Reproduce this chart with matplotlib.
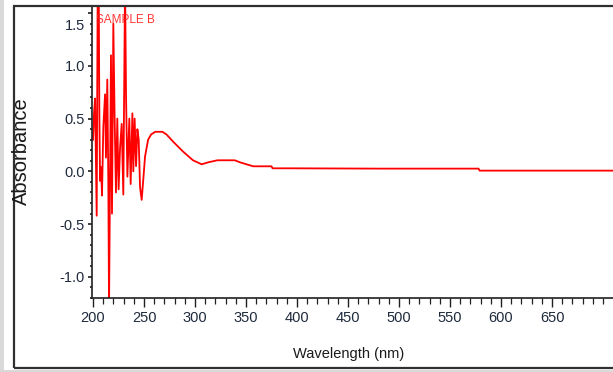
import matplotlib
matplotlib.use("Agg")
import matplotlib.pyplot as plt
from matplotlib.ticker import MultipleLocator, FixedLocator
from matplotlib.patches import Rectangle
import matplotlib.transforms as mtransforms

# ---- data ----
wavelength = [200.0, 201.0, 202.0, 203.6, 204.6, 205.6, 206.2, 206.9, 207.9, 208.8,
              210.1, 211.8, 212.7, 214.0, 215.0, 215.7, 217.6, 218.6, 219.9, 221.2,
              222.5, 223.8, 225.1, 226.5, 228.1, 229.7, 231.4, 232.4, 233.7, 235.6,
              236.9, 238.6, 239.5, 240.8, 242.2, 243.5, 244.8, 246.1, 247.7, 249.5,
              251.0, 254.0, 257.0, 261.0, 268.0, 272.0, 278.7, 288.0, 298.0, 306.5,
              313.0, 322.0, 339.0, 344.0, 357.0, 375.0, 376.0, 393.0, 480.0, 578.0,
              579.0, 650.0, 710.0]
absorbance = [0.30, 0.55, 0.69, -0.42, 1.80, 1.80, 0.55, -0.09, 0.04, -0.23,
              0.42, 0.73, 0.13, 0.87, -0.10, -1.30, 1.10, -0.40, 1.40, 0.50,
              -0.20, 0.50, -0.17, 0.22, 0.45, -0.22, 1.80, 0.70, -0.05, 0.50,
              -0.12, 0.55, 0.00, 0.50, 0.05, 0.40, 0.30, -0.15, -0.27, -0.05,
              0.14, 0.30, 0.35, 0.375, 0.375, 0.35, 0.28, 0.19, 0.105, 0.067,
              0.086, 0.105, 0.105, 0.086, 0.048, 0.048, 0.029, 0.029, 0.026, 0.026,
              0.007, 0.007, 0.007]

x_major = [200, 250, 300, 350, 400, 450, 500, 550, 600, 650]
y_major = [-1.0, -0.5, 0.0, 0.5, 1.0, 1.5]
y_labels = ["-1.0", "-0.5", "0.0", "0.5", "1.0", "1.5"]
sample_label = "SAMPLE B"
xlabel = "Wavelength (nm)"
ylabel = "Absorbance"

W, H = 613, 372
fig = plt.figure(figsize=(W / 100, H / 100), dpi=100)
fig.patch.set_facecolor("white")

narrow = ["Liberation Sans Narrow", "Liberation Sans", "DejaVu Sans"]
tick_color = "#1f2a3c"

# light gray strip on the left and the outer frame
fig.add_artist(Rectangle((0, 0), 4 / W, 1, transform=fig.transFigure,
                         facecolor="#d9d9d9", edgecolor="none"))
fig.add_artist(Rectangle((14 / W, 1 - 368 / H), 1.0, (368 - 6) / H,
                         transform=fig.transFigure, facecolor="none",
                         edgecolor="#303030", linewidth=1.6))
fig.add_artist(Rectangle((0, 0), 1, 1 - 370 / H, transform=fig.transFigure,
                         facecolor="#d9d9d9", edgecolor="none"))

ax = fig.add_axes([92 / W, 1 - 298 / H, 1 - 92 / W, (298 - 6) / H])
ax.set_facecolor("white")
ax.plot(wavelength, absorbance, color="#ff0000", linewidth=1.3)

ax.set_xlim(199.0, 709.8)
ax.set_ylim(-1.2, 1.567)

for s in ["top", "right"]:
    ax.spines[s].set_visible(False)
for s in ["left", "bottom"]:
    ax.spines[s].set_color("#202020")
    ax.spines[s].set_linewidth(1.2)

ax.xaxis.set_major_locator(FixedLocator(x_major))
ax.xaxis.set_minor_locator(MultipleLocator(10))
ax.yaxis.set_major_locator(FixedLocator(y_major))
ax.yaxis.set_minor_locator(MultipleLocator(0.1))
ax.set_yticklabels(y_labels)

ax.tick_params(axis="x", which="major", direction="out", length=6.5, width=1.0,
               color="#202020", pad=3, labelsize=10.5, labelcolor=tick_color)
ax.tick_params(axis="x", which="minor", direction="out", length=4, width=0.9,
               color="#202020")
ax.tick_params(axis="y", which="major", direction="out", length=3, width=1.2,
               color="#202020", pad=2, labelsize=10.5, labelcolor=tick_color)
ax.tick_params(axis="y", which="minor", direction="out", length=1.5, width=1.2,
               color="#202020")
for lab in ax.get_xticklabels() + ax.get_yticklabels():
    lab.set_family(narrow)

# the top label "1.5" sits a little lower than its tick in the reference
for lab in ax.get_yticklabels():
    if lab.get_text() == "1.5":
        lab.set_transform(lab.get_transform() +
                          mtransforms.ScaledTranslation(0, -8 / 72, fig.dpi_scale_trans))

ax.text(96 / W, 1 - 20 / H, sample_label, transform=fig.transFigure,
        color="#ff2020", fontsize=8.5, family=narrow, va="center", ha="left",
        alpha=0.9)

fig.text(349 / W, 1 - 354 / H, xlabel, fontsize=10.5, family=narrow,
         color="#1a1a1a", ha="center", va="center")
fig.text(21 / W, 1 - 151 / H, ylabel, fontsize=14.5, family=narrow,
         color="#1a1a1a", ha="center", va="center", rotation=90)

fig.savefig("out.png", dpi=100, facecolor="white")
